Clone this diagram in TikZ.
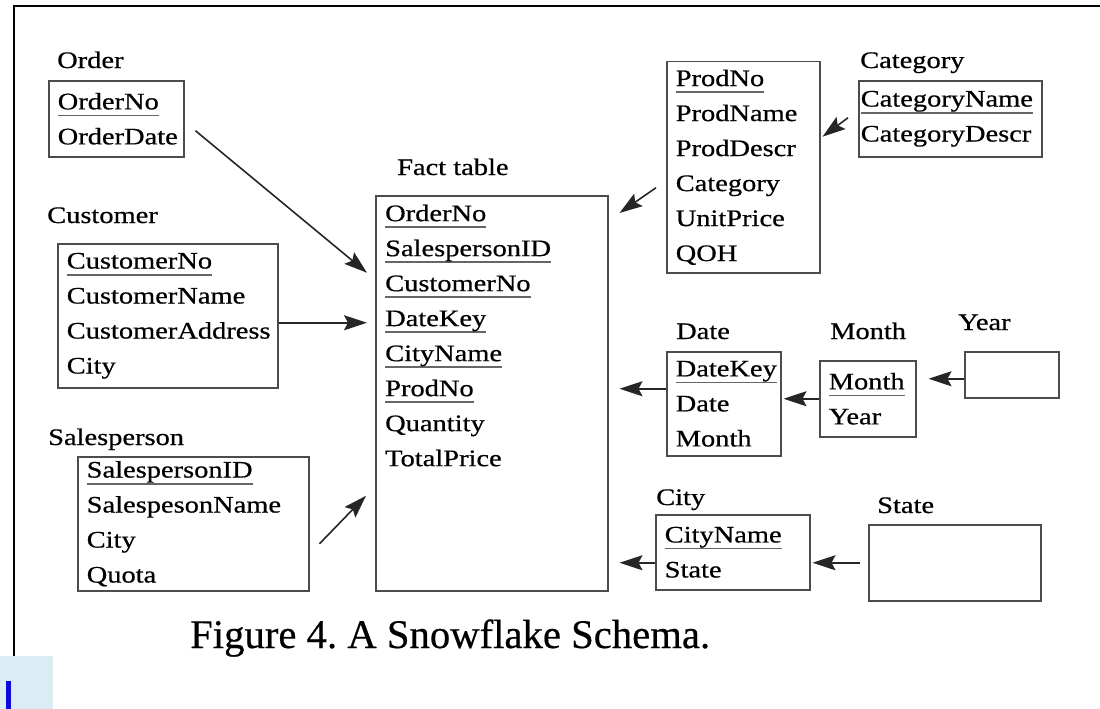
\documentclass[tikz,border=0pt]{standalone}
\usepackage{fontspec}
\setmainfont[FakeBold=0.5]{Liberation Serif}
\newfontfamily\tblfont[FakeStretch=1.2, FakeBold=0.6]{Liberation Serif}
\definecolor{bluebg}{RGB}{220,236,244}
\definecolor{cursorblue}{RGB}{10,10,220}
\newcommand{\pk}[1]{\leavevmode\setbox0=\hbox{#1}\rlap{\textcolor{black!60}{\rule[-7pt]{\wd0}{1.8pt}}}\box0}
\begin{document}
\begin{tikzpicture}[x=1pt, y=-1pt]
\usetikzlibrary{arrows.meta}
\tikzset{tbl/.style = {draw=black!70, line width=1.5pt, anchor=north west, inner xsep=9pt, inner ysep=0pt, align=left, font=\tblfont\fontsize{23.7}{35}\selectfont}}
\tikzset{tname/.style = {anchor=base west, inner sep=0pt, font=\tblfont\fontsize{23.7}{35}\selectfont}}
\tikzset{fk/.style = {-{Stealth[length=23pt, width=15pt, inset=4pt]}, line width=1.6pt, draw=black!85, fill=black}}
\useasboundingbox (0,0) rectangle (1100,709);
\draw[line width=2pt] (14,657) -- (14,6) -- (1100,6);
\fill[bluebg] (0,656) rectangle (53,709);
\fill[cursorblue] (6,681) rectangle (11,709);
\node[tname] (ordername) at (57,68) {Order};
\node[tbl, text width=117pt, minimum height=76pt] (order) at (48,80) {\pk{OrderNo}\\OrderDate};
\node[tname] (customername) at (47,223) {Customer};
\node[tbl, text width=202pt, minimum height=144pt] (customer) at (57,243) {\pk{CustomerNo}\\CustomerName\\CustomerAddress\\City};
\node[tname] (salespersonname) at (48,445) {Salesperson};
\node[tbl, text width=213pt, minimum height=134pt] (salesperson) at (77,456) {\pk{SalespersonID}\\SalespesonName\\City\\Quota};
\node[tname] (factname) at (397,175) {Fact table};
\node[tbl, minimum width=232pt, minimum height=395pt] (fact) at (375,195) {};
\node[tname, anchor=north west, align=left] (factrows) at (385,204.5) {\pk{OrderNo}\\\pk{SalespersonID}\\\pk{CustomerNo}\\\pk{DateKey}\\\pk{CityName}\\\pk{ProdNo}\\Quantity\\TotalPrice};
\node[tbl, text width=135pt, minimum height=211pt] (product) at (666,61) {\pk{ProdNo}\\ProdName\\ProdDescr\\Category\\UnitPrice\\QOH};
\node[tname] (categoryname) at (860,68) {Category};
\node[tbl, inner xsep=2pt, text width=179pt, minimum height=76pt] (category) at (858,80) {\pk{CategoryName}\\CategoryDescr};
\node[tname] (datename) at (676,339) {Date};
\node[tbl, text width=96pt, minimum height=104pt] (date) at (666,351) {\pk{DateKey}\\Date\\Month};
\node[tname] (monthname) at (830,339) {Month};
\node[tbl, text width=78pt, minimum height=76pt] (month) at (819,360) {\pk{Month}\\Year};
\node[tname] (yearname) at (958,330) {Year};
\node[tbl, minimum width=94pt, minimum height=46pt] (year) at (964,351) {};
\node[tname] (cityname) at (656,505) {City};
\node[tbl, text width=136pt, minimum height=75pt] (city) at (655,514) {\pk{CityName}\\State};
\node[tname] (statename) at (877,513) {State};
\node[tbl, minimum width=172pt, minimum height=76pt] (state) at (868,524) {};
\node[anchor=base west, inner sep=0pt, font=\fontsize{40.7}{48}\selectfont] (caption) at (190,648) {Figure 4.\ A Snowflake Schema.};
\draw[fk] ([shift={(11pt,-12pt)}]order.east) -- ([shift={(-8pt,120.5pt)}]fact.west);
\draw[fk, shorten >=8pt] ([yshift=-7pt]customer.east) -- ([yshift=-7pt]customer.east -| fact.west);
\draw[fk] ([shift={(10pt,-20pt)}]salesperson.east) -- ([shift={(-9pt,-102.5pt)}]fact.west);
\draw[fk] ([shift={(-10pt,-20.5pt)}]product.west) -- ([shift={(11pt,-18pt)}]fact.north east);
\draw[fk] ([shift={(-10pt,1pt)}]category.west) -- ([shift={(2pt,30.5pt)}]product.east);
\draw[fk, shorten >=11pt] ([yshift=15pt]date.west) -- ([yshift=15pt]date.west -| fact.east);
\draw[fk, shorten >=2pt] (month.west) -- (month.west -| date.east);
\draw[fk, shorten >=12pt] ([yshift=-4pt]year.west) -- ([yshift=-4pt]year.west -| month.east);
\draw[fk, shorten >=11pt] ([yshift=-10.5pt]city.west) -- ([yshift=-10.5pt]city.west -| fact.east);
\draw[fk, shorten <=8pt, shorten >=2pt] (state.west) -- (state.west -| city.east);
\end{tikzpicture}
\end{document}
